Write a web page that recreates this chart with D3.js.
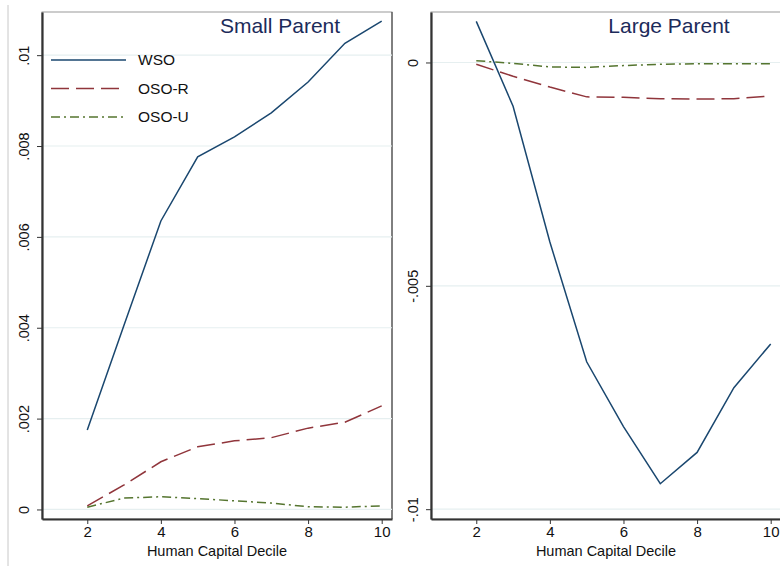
<!DOCTYPE html>
<html>
<head>
<meta charset="utf-8">
<script src="https://cdn.jsdelivr.net/npm/d3@7"></script>
<style>
  body { margin: 0; background: #fff; }
  svg { display: block; font-family: "Liberation Sans", Arial, sans-serif; }
  .grid line { stroke: #e6eff0; stroke-width: 1.2; }
  .series { fill: none; stroke-width: 1.5; }
</style>
</head>
<body>
<svg id="chart"></svg>
<script>
// values
const deciles = [2, 3, 4, 5, 6, 7, 8, 9, 10];

const smallWSO  = [0.00175, 0.00406, 0.00635, 0.00776, 0.0082, 0.00873, 0.00941, 0.01026, 0.01075];
const smallOSOR = [0.00008, 0.00054, 0.00105, 0.00138, 0.00151, 0.00158, 0.00179, 0.00192, 0.00228];
const smallOSOU = [0.00005, 0.00025, 0.00028, 0.00024, 0.00019, 0.00014, 0.00006, 0.00005, 0.00008];

const largeWSO  = [0.00092, -0.00098, -0.00402, -0.0067, -0.00815, -0.00943, -0.00873, -0.00728, -0.0063];
const largeOSOR = [-0.00004, -0.00031, -0.00055, -0.00077, -0.00078, -0.00081, -0.00082, -0.00081, -0.00075];
const largeOSOU = [0.00004, -0.00002, -0.0001, -0.00011, -0.00007, -0.00004, -0.00003, -0.00003, -0.00003];

const seriesNames = ['WSO', 'OSO-R', 'OSO-U'];
const xTicks = [2, 4, 6, 8, 10];
const smallTicks = [0, 0.002, 0.004, 0.006, 0.008, 0.01];
const largeTicks = [0, -0.005, -0.01];

const width = 780, height = 566;

const colors = { 'WSO': '#1a476f', 'OSO-R': '#90353b', 'OSO-U': '#55752f' };
const dashes = { 'WSO': null, 'OSO-R': '18,7', 'OSO-U': '9,4,2,4' };

// stata style: .002 instead of 0.002
const fmt = d => d === 0 ? '0' : String(d).replace('0.', '.');

const svg = d3.select('#chart')
  .attr('width', width)
  .attr('height', height);

// thin border left of the first graph
svg.append('line')
  .attr('x1', 8).attr('x2', 8)
  .attr('y1', 5).attr('y2', height)
  .attr('stroke', '#c8c8c8');

const panels = [
  { title: 'Small Parent', left: 42, yDomain: [-0.00021, 0.01095], ticks: smallTicks,
    values: [smallWSO, smallOSOR, smallOSOU], legend: true },
  { title: 'Large Parent', left: 431, yDomain: [-0.01022, 0.00113], ticks: largeTicks,
    values: [largeWSO, largeOSOR, largeOSOU], legend: false }
];

const plotTop = 12, plotBottom = 519, plotW = 350;

panels.forEach(p => {
  const x = d3.scaleLinear().domain([0.77, 10.28]).range([p.left, p.left + plotW]);
  const y = d3.scaleLinear().domain(p.yDomain).range([plotBottom, plotTop]);

  const g = svg.append('g');

  // plot region frame
  g.append('rect')
    .attr('x', p.left).attr('y', plotTop)
    .attr('width', plotW).attr('height', plotBottom - plotTop)
    .attr('fill', 'none')
    .attr('stroke', '#9a9a9a');
  g.append('line')
    .attr('x1', p.left + plotW).attr('x2', p.left + plotW)
    .attr('y1', plotTop).attr('y2', plotBottom)
    .attr('stroke', '#333');

  // gridlines
  g.append('g').attr('class', 'grid')
    .selectAll('line').data(p.ticks)
    .join('line')
    .attr('x1', p.left).attr('x2', p.left + plotW)
    .attr('y1', d => y(d)).attr('y2', d => y(d));

  // y axis
  const yAxisG = g.append('g')
    .attr('transform', `translate(${p.left},0)`)
    .call(d3.axisLeft(y).tickValues(p.ticks).tickFormat(fmt).tickSize(5).tickSizeOuter(0));
  yAxisG.select('.domain').attr('stroke', '#333').attr('stroke-width', 2.2);
  yAxisG.selectAll('.tick line').attr('stroke', '#333');
  yAxisG.selectAll('.tick text')
    .attr('font-size', 14.5)
    .attr('fill', '#111')
    .attr('x', 0).attr('dy', 0)
    .attr('text-anchor', 'middle')
    .attr('transform', 'translate(-13,0) rotate(-90)');

  // x axis
  const xAxisG = g.append('g')
    .attr('transform', `translate(0,${plotBottom})`)
    .call(d3.axisBottom(x).tickValues(xTicks).tickSize(5).tickSizeOuter(0));
  xAxisG.select('.domain').attr('stroke', '#333').attr('stroke-width', 2.2);
  xAxisG.selectAll('.tick line').attr('stroke', '#333');
  xAxisG.selectAll('.tick text')
    .attr('font-size', 15)
    .attr('fill', '#111')
    .attr('y', 7);

  xAxisG.append('text')
    .attr('x', p.left + plotW / 2)
    .attr('y', 37)
    .attr('fill', '#111')
    .attr('font-size', 14.5)
    .attr('text-anchor', 'middle')
    .text('Human Capital Decile');

  // lines
  const lineGen = d3.line()
    .x((d, i) => x(deciles[i]))
    .y(d => y(d));

  g.selectAll('.series').data(p.values)
    .join('path')
    .attr('class', 'series')
    .attr('d', d => lineGen(d))
    .attr('stroke', (d, i) => colors[seriesNames[i]])
    .attr('stroke-dasharray', (d, i) => dashes[seriesNames[i]]);

  // panel title
  g.append('text')
    .attr('x', p.left + 238)
    .attr('y', 33)
    .attr('text-anchor', 'middle')
    .attr('font-size', 21)
    .attr('fill', '#1c2b5a')
    .text(p.title);

  if (p.legend) {
    const lg = g.append('g').attr('transform', `translate(${p.left + 9},60)`);
    const items = lg.selectAll('g').data(seriesNames)
      .join('g')
      .attr('transform', (d, i) => `translate(0,${i * 28.5})`);
    items.append('line')
      .attr('x1', 0).attr('x2', 75)
      .attr('stroke', d => colors[d])
      .attr('stroke-width', 1.6)
      .attr('stroke-dasharray', d => dashes[d]);
    items.append('text')
      .attr('x', 87)
      .attr('dy', '0.35em')
      .attr('font-size', 15.5)
      .attr('fill', '#111')
      .text(d => d);
  }
});
</script>
</body>
</html>
